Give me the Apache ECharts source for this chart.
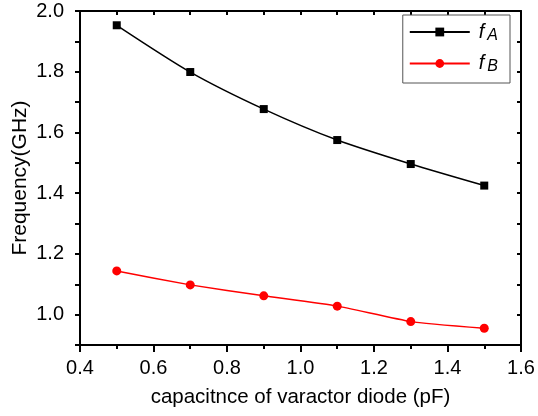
<!DOCTYPE html>
<html><head><meta charset="utf-8">
<script src="https://cdn.jsdelivr.net/npm/echarts@6/dist/echarts.min.js"></script>
<style>html,body{margin:0;padding:0;background:#fff}#c{width:538px;height:416px}</style>
</head><body><div id="c"></div>
<script>
const capacitance = [0.5, 0.7, 0.9, 1.1, 1.3, 1.5];
const fA = [1.953, 1.799, 1.677, 1.575, 1.496, 1.425];
const fB = [1.144, 1.098, 1.062, 1.028, 0.977, 0.955];
const xTicks = [0.4, 0.6, 0.8, 1.0, 1.2, 1.4, 1.6];
const yTicks = [1.0, 1.2, 1.4, 1.6, 1.8, 2.0];

const font = 'Liberation Sans, Arial, sans-serif';
const chart = echarts.init(document.getElementById('c'), null, {renderer: 'canvas'});
const axLine = {show: true, lineStyle: {color: '#000', width: 2}};
chart.setOption({
  animation: false,
  backgroundColor: '#fff',
  grid: {left: 80, top: 11, right: 17, bottom: 71, containLabel: false, outerBoundsMode: 'none'},
  legend: {
    right: 28, top: 15, orient: 'vertical',
    padding: [7, 12, 8, 6], itemGap: 10,
    itemWidth: 60, itemHeight: 11,
    borderColor: '#555', borderWidth: 1, borderRadius: 0,
    data: ['fA', 'fB'],
    formatter: function (n) { return '{i|f}{s|' + n.slice(1) + '}'; },
    textStyle: {
      fontFamily: font, fontSize: 20, color: '#000',
      rich: {
        i: {fontStyle: 'italic', fontSize: 20, fontFamily: font, padding: [0, 3, 0, 4]},
        s: {fontStyle: 'italic', fontSize: 16, fontFamily: font, verticalAlign: 'bottom', padding: [7, 0, 0, 0]}
      }
    }
  },
  xAxis: [{
    type: 'value', min: 0.4, max: 1.6, interval: 0.2,
    axisLine: axLine,
    axisTick: {show: true, inside: false, length: 7, lineStyle: {color: '#000', width: 2}},
    minorTick: {show: true, splitNumber: 2, length: 4, lineStyle: {color: '#000', width: 2}},
    splitLine: {show: false},
    axisLabel: {color: '#000', fontSize: 20, fontFamily: font, margin: 13,
      formatter: v => xTicks.some(t => Math.abs(t - v) < 1e-6) ? v.toFixed(1) : ''},
    name: 'capacitnce of varactor diode (pF)', nameLocation: 'middle', nameGap: 42,
    nameMoveOverlap: false,
    nameTextStyle: {color: '#000', fontSize: 20.5, fontFamily: font}
  }, {
    type: 'value', position: 'top', min: 0.4, max: 1.6, interval: 0.1,
    axisLine: axLine,
    axisTick: {show: true, inside: true, length: 4, lineStyle: {color: '#000', width: 2}},
    axisLabel: {show: false}, splitLine: {show: false}
  }],
  yAxis: [{
    type: 'value', min: 0.9, max: 2.0, interval: 0.1,
    axisLine: axLine,
    axisTick: {show: true, inside: false, length: 5, lineStyle: {color: '#000', width: 2}},
    splitLine: {show: false},
    axisLabel: {color: '#000', fontSize: 20, fontFamily: font, margin: 16,
      formatter: v => yTicks.some(t => Math.abs(t - v) < 1e-6) ? v.toFixed(1) : ''},
    name: 'Frequency(GHz)', nameLocation: 'middle', nameGap: 49,
    nameMoveOverlap: false,
    nameTextStyle: {color: '#000', fontSize: 21, fontFamily: font}
  }, {
    type: 'value', position: 'right', min: 0.9, max: 2.0, interval: 0.1,
    axisLine: axLine,
    axisTick: {show: true, inside: true, length: 4, lineStyle: {color: '#000', width: 2}},
    axisLabel: {show: false}, splitLine: {show: false}
  }],
  series: [{
    name: 'fA', type: 'line', smooth: 0.25,
    data: capacitance.map((x, i) => [x, fA[i]]),
    symbol: 'rect', symbolSize: 8,
    lineStyle: {color: '#000', width: 1.5}, itemStyle: {color: '#000'}
  }, {
    name: 'fB', type: 'line', smooth: 0.15,
    data: capacitance.map((x, i) => [x, fB[i]]),
    symbol: 'circle', symbolSize: 9,
    lineStyle: {color: '#f00', width: 1.5}, itemStyle: {color: '#f00'}
  }]
});
</script></body></html>
